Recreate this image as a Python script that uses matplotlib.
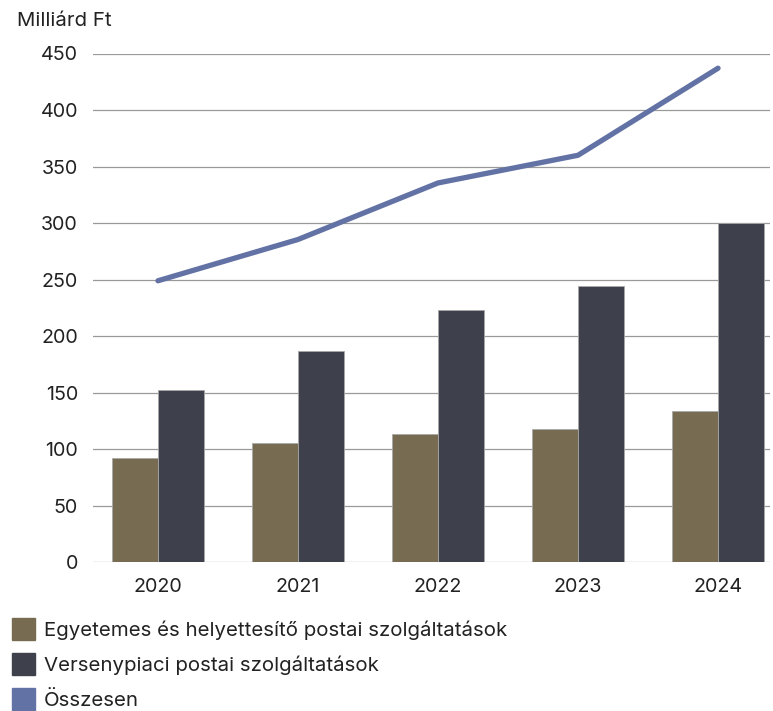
import numpy as np
import matplotlib.pyplot as plt
from matplotlib.patches import Patch

years = ['2020', '2021', '2022', '2023', '2024']
egyetemes = [92, 105.5, 113.5, 118, 134]
verseny = [152.5, 186.5, 223.5, 244.5, 300.5]
osszesen = [249, 285.5, 335.5, 360, 437]

labels = ['Egyetemes és helyettesítő postai szolgáltatások',
          'Versenypiaci postai szolgáltatások',
          'Összesen']
c_olive = '#776c52'
c_dark = '#3e414b'
c_line = '#6272a4'

plt.rcParams['font.family'] = ['Inter', 'DejaVu Sans']

fig = plt.figure(figsize=(7.73, 7.11), dpi=100)
ax = fig.add_axes([93 / 773, 1 - 562.3 / 711, 677 / 773, (562.3 - 53.5) / 711])

x = np.arange(len(years))
w = 0.33
ax.bar(x - w / 2, egyetemes, w, color=c_olive, edgecolor='#a8a8a8', linewidth=0.6, zorder=2)
ax.bar(x + w / 2, verseny, w, color=c_dark, edgecolor='#a8a8a8', linewidth=0.6, zorder=2)
ax.plot(x, osszesen, color=c_line, linewidth=3.8, solid_capstyle='round',
        solid_joinstyle='round', zorder=3)

ax.set_ylim(0, 450)
ax.set_xlim(-0.464, 4.371)
ax.set_yticks(np.arange(0, 451, 50))
ax.set_xticks(x)
ax.set_xticklabels(years)
ax.yaxis.grid(True, color='#9a9a9a', linewidth=0.9)
ax.set_axisbelow(True)
for s in ax.spines.values():
    s.set_visible(False)
ax.tick_params(axis='both', length=0, labelsize=14.2, colors='#222222')
ax.tick_params(axis='y', pad=10.8)
ax.tick_params(axis='x', pad=11)

fig.text(17 / 773, 1 - 26 / 711, 'Milliárd Ft', fontsize=14.7, color='#222222',
         ha='left', va='baseline')

handles = [Patch(color=c_olive), Patch(color=c_dark), Patch(color=c_line)]
fig.legend(handles, labels, loc='upper left',
           bbox_to_anchor=(12 / 773, 1 - 618 / 711), frameon=False,
           fontsize=14.7, handlelength=1.15, handleheight=1.25,
           handletextpad=0.4, labelspacing=0.66, borderpad=0, borderaxespad=0,
           labelcolor='#222222')

fig.savefig('out.png', dpi=100)
